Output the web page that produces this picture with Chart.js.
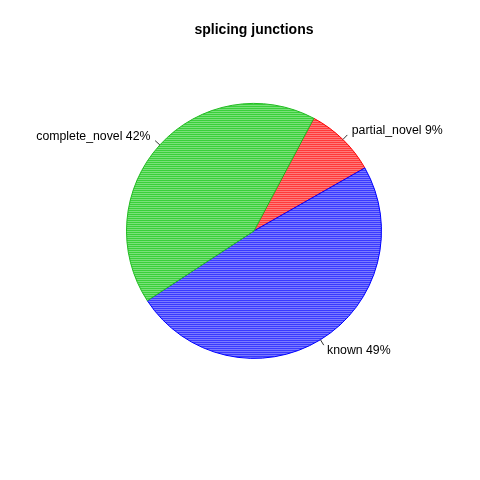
<!DOCTYPE html>
<html>
<head>
<meta charset="utf-8">
<title>splicing junctions</title>
<script src="https://cdn.jsdelivr.net/npm/chart.js@4"></script>
<style>
  html, body { margin: 0; padding: 0; background: #fff; }
  #wrap { width: 480px; height: 480px; }
</style>
</head>
<body>
<div id="wrap"><canvas id="pieChart" width="480" height="480"></canvas></div>
<script>
// data (clockwise drawing order, starting from the partial/complete boundary)
const categories = ['partial_novel', 'known', 'complete_novel'];
const percents = [9, 49, 42];
const solidColors = ['#ff3a3a', '#3a3aff', '#3ad03a'];
const lightColors = ['#ff7a7a', '#7a7aff', '#7ae07a'];
const edgeColors = ['#ff0000', '#0000ff', '#22bb22'];

// R-style fine stripes
function stripes(c1, c2) {
  const off = document.createElement('canvas');
  off.width = 2; off.height = 2;
  const g = off.getContext('2d');
  g.fillStyle = c1; g.fillRect(0, 0, 2, 1);
  g.fillStyle = c2; g.fillRect(0, 1, 2, 1);
  return g.createPattern(off, 'repeat');
}

// labels outside the pie with short tick lines, like base R pie()
const pieLabels = {
  id: 'pieLabels',
  afterDatasetsDraw(chart) {
    const ctx = chart.ctx;
    const arcs = chart.getDatasetMeta(0).data;
    ctx.save();
    ctx.font = '12.3px "Liberation Sans", Arial, sans-serif';
    ctx.fillStyle = '#000';
    ctx.strokeStyle = '#333';
    ctx.lineWidth = 1;
    arcs.forEach((arc, i) => {
      const mid = (arc.startAngle + arc.endAngle) / 2;
      const r = arc.outerRadius;
      const c = Math.cos(mid), s = Math.sin(mid);
      ctx.beginPath();
      ctx.moveTo(arc.x + c * r, arc.y + s * r);
      ctx.lineTo(arc.x + c * r * 1.05, arc.y + s * r * 1.05);
      ctx.stroke();
      ctx.textAlign = c >= 0 ? 'left' : 'right';
      ctx.textBaseline = 'middle';
      ctx.fillText(categories[i] + ' ' + percents[i] + '%', arc.x + c * r * 1.1, arc.y + s * r * 1.1);
    });
    ctx.restore();
  }
};

const ctx = document.getElementById('pieChart').getContext('2d');
const pieChart = new Chart(ctx, {
  type: 'pie',
  data: {
    labels: categories,
    datasets: [{
      data: percents,
      backgroundColor: solidColors.map((c, i) => stripes(c, lightColors[i])),
      borderColor: edgeColors,
      borderWidth: 1,
      hoverOffset: 0
    }]
  },
  options: {
    responsive: false,
    devicePixelRatio: 1,
    animation: false,
    rotation: 28,
    layout: { padding: { left: 126, right: 98, top: 0, bottom: 121 } },
    plugins: {
      legend: { display: false },
      tooltip: { enabled: false },
      title: {
        display: true,
        text: 'splicing junctions',
        color: '#000',
        font: { family: '"Liberation Sans", Arial, sans-serif', size: 14, weight: 'bold', lineHeight: 1.2 },
        padding: { top: 22, bottom: 64 }
      }
    }
  },
  plugins: [pieLabels]
});
</script>
</body>
</html>
